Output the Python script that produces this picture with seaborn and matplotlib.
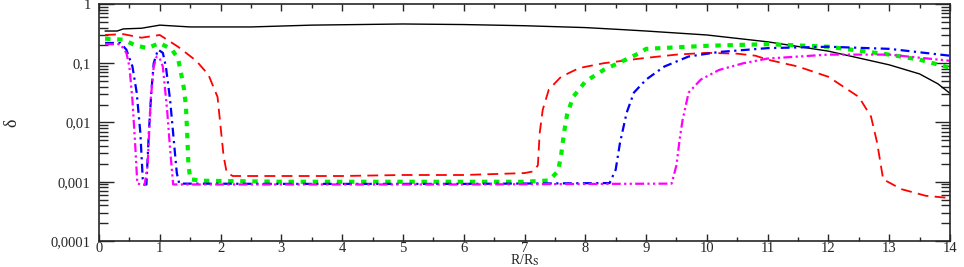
import numpy as np
import pandas as pd
import matplotlib
matplotlib.use("Agg")
import matplotlib.pyplot as plt
import matplotlib.ticker as mticker
import seaborn as sns

# values (R/Rs, delta)
r_black = [0.1, 0.3, 0.4, 0.7, 1.0, 1.5, 2.5, 3.5, 5.0, 6.0, 7.0, 8.0, 8.6, 9.0, 10.0, 11.0, 12.0, 13.0, 13.5, 13.8, 14.0]
d_black = [0.35, 0.35, 0.38, 0.39, 0.44, 0.41, 0.41, 0.44, 0.46, 0.45, 0.43, 0.40, 0.37, 0.35, 0.30, 0.23, 0.16, 0.094, 0.066, 0.045, 0.031]

r_red = [0.1, 0.4, 0.7, 1.0, 1.3, 1.6, 1.8, 1.95, 2.0, 2.05, 2.1, 2.2, 4.0, 5.0, 6.0, 7.0, 7.15, 7.22,
         7.25, 7.3, 7.4, 7.6, 7.9, 8.3, 8.9, 9.5, 10.0, 10.5, 10.8, 11.0, 11.5, 12.0, 12.5, 12.7, 12.8, 12.9,
         13.2, 13.6, 14.0]
d_red = [0.30, 0.31, 0.27, 0.30, 0.19, 0.11, 0.064, 0.027, 0.0085, 0.0027, 0.00144, 0.00125, 0.00125, 0.0013, 0.0013,
         0.0014, 0.0015, 0.0019, 0.0067, 0.0165, 0.036, 0.059, 0.083, 0.10, 0.12, 0.14, 0.15, 0.145, 0.134, 0.115,
         0.088, 0.059, 0.027, 0.0126, 0.0046, 0.0011, 0.00075, 0.00058, 0.00053]

r_green = [0.1, 0.4, 0.6, 0.8, 1.0, 1.2, 1.3, 1.35, 1.4, 1.43, 1.45, 1.47, 1.5, 1.7, 3.0, 5.0, 7.0, 7.4, 7.55,
           7.6, 7.65, 7.7, 7.8, 8.0, 8.3, 8.6, 8.9, 9.0, 10.0, 11.0, 12.0, 13.0, 13.5, 14.0]
d_green = [0.26, 0.25, 0.20, 0.18, 0.22, 0.17, 0.12, 0.068, 0.036, 0.019, 0.0067, 0.0021, 0.0011, 0.00104, 0.001,
           0.001, 0.001, 0.00105, 0.0015, 0.0027, 0.0067, 0.0136, 0.027, 0.049, 0.077, 0.107, 0.15, 0.175, 0.197,
           0.21, 0.19, 0.14, 0.115, 0.084]

r_blue = [0.1, 0.35, 0.45, 0.55, 0.62, 0.68, 0.72, 0.75, 0.78, 0.82, 0.86, 0.9, 0.97, 1.05, 1.1, 1.17, 1.23,
          1.28, 1.32, 3.0, 6.0, 8.4, 8.5, 8.57, 8.68, 8.8, 9.0, 9.3, 9.7, 10.2, 11.0, 12.0, 13.0, 14.0]
d_blue = [0.22, 0.22, 0.17, 0.088, 0.032, 0.0067, 0.0011, 0.0009, 0.0009, 0.0067, 0.032, 0.10, 0.17, 0.15, 0.088,
          0.024, 0.005, 0.0014, 0.00093, 0.00092, 0.00092, 0.00095, 0.0016, 0.0045, 0.0146, 0.032, 0.053, 0.088,
          0.13, 0.155, 0.18, 0.19, 0.175, 0.134]

r_mag = [0.1, 0.35, 0.45, 0.5, 0.55, 0.6, 0.63, 0.75, 0.8, 0.85, 0.9, 0.95, 1.0, 1.05, 1.12, 1.17, 1.22, 3.0,
         6.0, 9.42, 9.5, 9.55, 9.6, 9.7, 9.9, 10.2, 10.6, 11.0, 12.0, 13.0, 14.0]
d_mag = [0.21, 0.21, 0.15, 0.088, 0.024, 0.0035, 0.00093, 0.00088, 0.0019, 0.024, 0.088, 0.13, 0.12, 0.088, 0.0165,
         0.0035, 0.0009, 0.0009, 0.0009, 0.00093, 0.0019, 0.005, 0.011, 0.032, 0.053, 0.077, 0.10, 0.12, 0.14,
         0.14, 0.11]

sns.set_style("ticks")
plt.rcParams['font.family'] = ['Liberation Serif', 'DejaVu Serif']
plt.rcParams['mathtext.fontset'] = 'stix'

fig = plt.figure(figsize=(9.64, 2.67), dpi=100)
ax = fig.add_axes([0.1027, 0.0974, 0.8828, 0.8876])

series = [
    (r_black, d_black, 'black', None, 1.0),
    (r_red, d_red, 'red', (6, 3.5), 1.3),
    (r_green, d_green, '#00ee00', (1.3, 1.6), 3.0),
    (r_blue, d_blue, 'blue', (4, 2, 1, 2), 1.6),
    (r_mag, d_mag, 'magenta', (4, 1.5, 1, 1.5, 1, 1.5), 1.6),
]
for r, d, c, dash, lw in series:
    sns.lineplot(x=r, y=d, ax=ax, color=c, linewidth=lw, sort=False, estimator=None)
    if dash is not None:
        ax.lines[-1].set_dashes(dash)

ax.set_yscale('log')
ax.set_xlim(0, 14)
ax.set_ylim(1e-4, 1)
ax.xaxis.set_major_locator(mticker.MultipleLocator(1))
ax.xaxis.set_minor_locator(mticker.MultipleLocator(0.5))
ax.yaxis.set_major_locator(mticker.LogLocator(base=10, numticks=10))
ax.yaxis.set_minor_locator(mticker.LogLocator(base=10, subs=np.arange(2, 10), numticks=20))
ax.yaxis.set_minor_formatter(mticker.NullFormatter())
ax.yaxis.set_major_formatter(mticker.FuncFormatter(lambda v, p: f"{v:g}".replace('.', ',')))

ax.tick_params(axis='both', which='both', direction='in', top=True, right=True, labelsize=10.5, width=1)
ax.tick_params(axis='y', which='major', length=11, pad=6)
ax.tick_params(axis='y', which='minor', length=6.5)
ax.tick_params(axis='x', which='major', length=5, pad=1)
ax.tick_params(axis='x', which='minor', length=3)
for s in ax.spines.values():
    s.set_linewidth(1.2)

ax.set_xlabel(r'R/R$_\mathrm{S}$', fontsize=10)
ax.xaxis.set_label_coords(0.5, -0.08)
ax.xaxis.label.set_va('center')
ax.set_ylabel('δ', fontsize=13)
ax.yaxis.set_label_coords(-0.092, 0.5)

fig.savefig('out.png', dpi=100)
